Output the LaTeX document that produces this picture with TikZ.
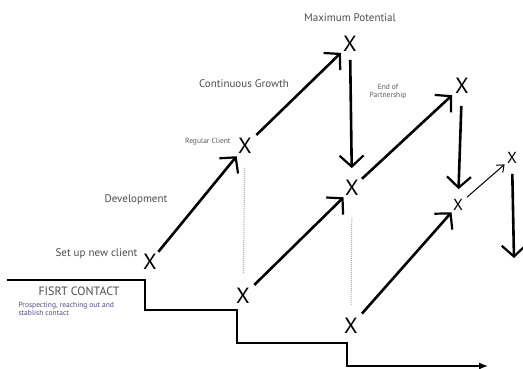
\documentclass[tikz,border=0pt]{standalone}
\usepackage{fontspec}
\setmainfont{PT Sans}
\usetikzlibrary{arrows.meta}

\tikzset{
  cross/.style={inner sep=0pt, font=\fontsize{22}{22}\selectfont},
  smallcross/.style={inner sep=0pt, font=\fontsize{16}{16}\selectfont},
  rise/.style={line width=2.6pt, -{Straight Barb[length=11pt,width=24pt,line width=2.2pt]}},
  thinrise/.style={line width=1pt, -{Straight Barb[length=6pt,width=10pt]}},
  caption/.style={text=black!70, font=\fontsize{11}{13}\selectfont},
  tinytext/.style={text=black!65, font=\fontsize{7.5}{8}\selectfont, align=center},
}

\begin{document}
\begin{tikzpicture}[x=1pt,y=-1pt]
    \useasboundingbox (0,0) rectangle (523,369);

    % stepped time line
    \draw[line width=1.3pt, -{Latex[length=9pt,width=7pt]}]
        (7,280)--(145,280)--(145,310)--(237,310)--(237,343)--(347,343)--(347,366)--(488,366);

    % marks
    \node[cross] (new) at (150,262) {X};
    \node[cross] (reg) at (245,146) {X};
    \node[cross] (max) at (350,44) {X};
    \node[cross] (mid) at (352,188) {X};
    \node[cross] (top) at (462,86) {X};
    \node[cross] (lowa) at (243,296) {X};
    \node[cross] (lowb) at (351,326) {X};
    \node[smallcross] (sec) at (458,205) {X};
    \node[smallcross] (last) at (512,158) {X};

    % growth
    \draw[rise, shorten <=3pt, shorten >=3pt] (new) -- (reg);
    \draw[rise, shorten <=6pt, shorten >=3pt] (reg) -- (max);
    \draw[rise, shorten <=4pt, shorten >=4pt] (mid) -- (top);
    \draw[rise, shorten <=6pt, shorten >=2pt] (lowa) -- (mid.south west);
    \draw[rise, shorten <=6pt, shorten >=2pt] (lowb) -- (sec.south west);
    \draw[thinrise, shorten <=5pt, shorten >=3pt] (sec) -- (last);

    % end of partnership
    \draw[rise, shorten <=8pt, shorten >=12pt] (max) -- (mid);
    \draw[rise, shorten <=12pt, shorten >=10pt] (top) -- (sec);
    \coordinate (drop) at (514,258);
    \draw[rise, shorten <=10pt] (last) -- (drop);

    % dotted guides
    \draw[gray!65, line width=1pt, dash pattern=on 1pt off 1pt, shorten <=14pt, shorten >=14pt] (reg) -- (lowa);
    \draw[gray!65, line width=1pt, dash pattern=on 1pt off 1pt, shorten <=22pt, shorten >=13pt] (mid) -- (lowb);

    % texts
    \node[caption] at (350,18) {Maximum Potential};
    \node[caption] at (244,84) {Continuous Growth};
    \node[tinytext] at (388,92) {End of\\Partnership};
    \node[tinytext, anchor=east] at (234,142) {Regular Client};
    \node[caption] at (136,200) {Development};
    \node[caption, anchor=east] at (141,254) {Set up new client};
    \node[caption, anchor=west, font=\fontsize{12}{14}\selectfont] at (35,291) {FISRT CONTACT};
    \node[tinytext, align=left, anchor=north west, text=black!65!blue!70] at (15,299)
        {Prospecting, reaching out and\\stablish contact};
\end{tikzpicture}
\end{document}
